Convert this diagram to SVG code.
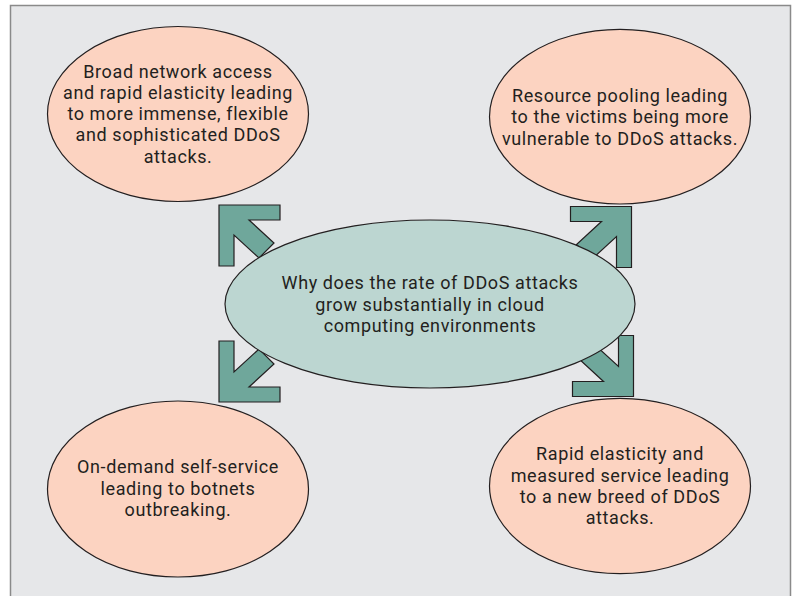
<svg xmlns="http://www.w3.org/2000/svg" width="797" height="596" viewBox="0 0 797 596">
<defs>
<style>
.bg{fill:#e6e7e9;stroke:#8a8a8a;stroke-width:1.5}
.pink{fill:#fcd3c1;stroke:#231f20;stroke-width:1.2}
.center{fill:#bcd6d1;stroke:#231f20;stroke-width:1.2}
.arrow{fill:#6fa79b;stroke:#231f20;stroke-width:1.2;stroke-linejoin:miter}
text{font-family:Roboto,"Liberation Sans",sans-serif;font-size:18px;letter-spacing:0.6px;fill:#231f20;text-anchor:middle}
</style>
<polygon id="arr" points="0,0 61,0 61,15 30,15 55,38 40,53 15,30 15,61 0,61"/>
</defs>
<rect class="bg" x="10.5" y="5.5" width="780" height="600"/>
<g id="connectors">
<use href="#arr" class="arrow" transform="translate(219,205)"/>
<use href="#arr" class="arrow" transform="translate(631.5,206.5) scale(-1,1)"/>
<use href="#arr" class="arrow" transform="translate(219,402) scale(1,-1)"/>
<use href="#arr" class="arrow" transform="translate(633.5,396.5) scale(-1,-1)"/>
</g>
<g id="center-node">
<ellipse class="center" cx="430" cy="304" rx="205" ry="84"/>
<text x="430" y="289">Why does the rate of DDoS attacks</text>
<text x="430" y="310.5">grow substantially in cloud</text>
<text x="430" y="332">computing environments</text>
</g>
<g id="node-top-left">
<ellipse class="pink" cx="178" cy="114" rx="130.5" ry="87.5"/>
<text x="178" y="77.5">Broad network access</text>
<text x="178" y="98.8">and rapid elasticity leading</text>
<text x="178" y="120">to more immense, flexible</text>
<text x="178" y="141.3">and sophisticated DDoS</text>
<text x="178" y="162.5">attacks.</text>
</g>
<g id="node-top-right">
<ellipse class="pink" cx="620" cy="116.7" rx="130.5" ry="87.3"/>
<text x="620" y="101.7">Resource pooling leading</text>
<text x="620" y="123.3">to the victims being more</text>
<text x="620" y="145">vulnerable to DDoS attacks.</text>
</g>
<g id="node-bottom-left">
<ellipse class="pink" cx="178" cy="489" rx="130.5" ry="88"/>
<text x="178" y="473.3">On-demand self-service</text>
<text x="178" y="494.8">leading to botnets</text>
<text x="178" y="516.3">outbreaking.</text>
</g>
<g id="node-bottom-right">
<ellipse class="pink" cx="620" cy="486" rx="130.5" ry="87.7"/>
<text x="620" y="460.3">Rapid elasticity and</text>
<text x="620" y="481.7">measured service leading</text>
<text x="620" y="503">to a new breed of DDoS</text>
<text x="620" y="524.3">attacks.</text>
</g>
</svg>
